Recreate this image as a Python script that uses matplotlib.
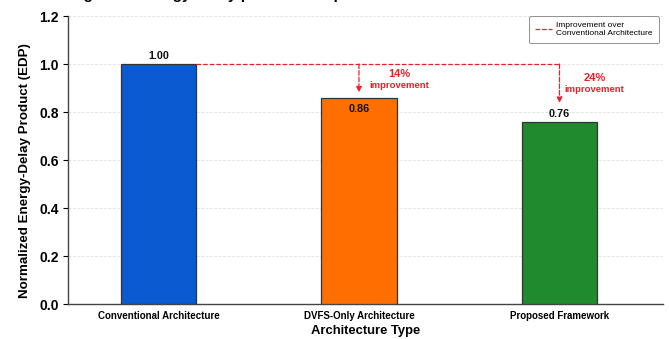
import matplotlib
matplotlib.use("Agg")
import matplotlib.pyplot as plt
import numpy as np

plt.rcParams['font.family'] = ['Liberation Sans', 'DejaVu Sans']

# Data
architectures = ["Conventional Architecture", "DVFS-Only Architecture", "Proposed Framework"]
edp_values = [1.00, 0.86, 0.76]
value_labels = ["1.00", "0.86", "0.76"]
improvements = ["14%", "24%"]
bar_colors = ["#0a5ad2", "#ff6e00", "#208a2e"]
y_ticks = [0.0, 0.2, 0.4, 0.6, 0.8, 1.0, 1.2]

fig = plt.figure(figsize=(6.69, 3.39), dpi=100)
ax = fig.add_axes([0.1016, 0.1032, 0.8894, 0.8496])

x = np.arange(len(architectures))
bars = ax.bar(x, edp_values, width=0.375, color=bar_colors,
              edgecolor="#333333", linewidth=0.9, zorder=3)

ax.set_xlim(-0.451, 2.516)
ax.set_ylim(0, 1.2)
ax.set_yticks(y_ticks)
ax.set_yticklabels([f"{t:.1f}" for t in y_ticks], fontsize=10, fontweight="bold")
ax.set_xticks(x)
ax.set_xticklabels(architectures, fontsize=7.0, fontweight="bold")
ax.tick_params(axis="x", length=0, pad=5)
ax.tick_params(axis="y", length=3.5, width=0.8, pad=3)

ax.set_ylabel("Normalized Energy-Delay Product (EDP)", fontsize=9.6, fontweight="bold")
ax.yaxis.set_label_coords(-0.062, 0.465)
ax.set_xlabel("Architecture Type", fontsize=9.4, fontweight="bold", labelpad=3)

for side in ("top", "right"):
    ax.spines[side].set_visible(False)
for side in ("left", "bottom"):
    ax.spines[side].set_color("#444444")
    ax.spines[side].set_linewidth(1.0)

ax.yaxis.grid(True, linestyle="--", color="#e2e2e2", linewidth=0.6, zorder=0)
ax.set_axisbelow(True)

# value labels
label_offsets = [0.012, -0.07, 0.012]
for xi, v, lab, off in zip(x, edp_values, value_labels, label_offsets):
    ax.text(xi, v + off, lab, ha="center", va="bottom", fontsize=7.8,
            fontweight="bold", color="#111111", zorder=4)

# improvement reference line and arrows
red = "#e8202a"
base = edp_values[0]
line, = ax.plot([x[0] + 0.1875, x[2]], [base, base], linestyle="--", color=red,
                linewidth=0.9, zorder=4, label="Improvement over\nConventional Architecture")
tip_offsets = [0.022, 0.078]
for xi, v, toff in zip(x[1:], edp_values[1:], tip_offsets):
    ax.annotate("", xy=(xi, v + toff), xytext=(xi, base),
                arrowprops=dict(arrowstyle="-|>", color=red, linestyle="--",
                                linewidth=0.9, mutation_scale=8,
                                shrinkA=0, shrinkB=0), zorder=4)

text_pos = [(x[1] + 0.2, 0.958, 0.912), (x[2] + 0.175, 0.942, 0.893)]
for imp, (tx, y_pct, y_word) in zip(improvements, text_pos):
    ax.text(tx, y_pct, imp, ha="center", va="center",
            fontsize=8.0, fontweight="bold", color=red)
    ax.text(tx, y_word, "improvement", ha="center", va="center",
            fontsize=6.8, fontweight="bold", color=red)

leg = ax.legend(handles=[line], loc="upper right", fontsize=6.0, frameon=True,
                bbox_to_anchor=(1.0, 1.015), borderpad=0.75, handlelength=2.0,
                handletextpad=0.5, fancybox=True)
leg.get_frame().set_edgecolor("#777777")
leg.get_frame().set_linewidth(0.7)

fig.text(0.105, 1.004, "Figure 4: Energy-Delay product comparison across architectures",
         ha="left", va="baseline", fontsize=11, fontweight="bold")

fig.savefig("out.png", dpi=100, facecolor="white")
